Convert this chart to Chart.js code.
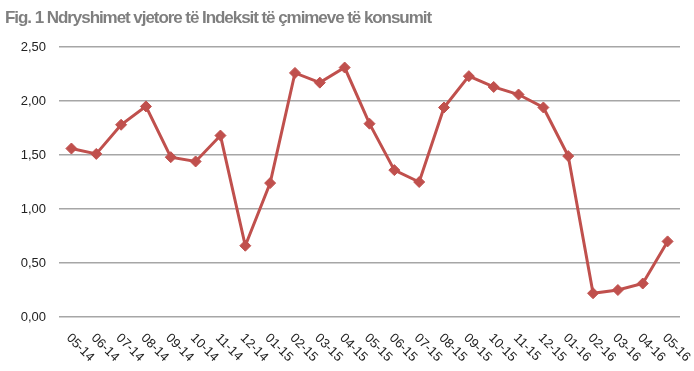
<!DOCTYPE html>
<html>
<head>
<meta charset="utf-8">
<script src="https://cdn.jsdelivr.net/npm/chart.js@4.4.0/dist/chart.umd.min.js"></script>
<style>
  html, body { margin: 0; padding: 0; background: #fff; }
  #wrap { position: relative; width: 694px; height: 371px; }
  #title { position: absolute; left: 5px; top: 8px; font-family: "Liberation Sans", Arial, sans-serif; font-weight: bold; font-size: 17px; color: #7f7f7f; white-space: nowrap; letter-spacing: -1px; }
  canvas { position: absolute; left: 0; top: 0; }
</style>
</head>
<body>
<div id="wrap">
  <canvas id="c" width="694" height="371"></canvas>
  <div id="title"><span id="tt">Fig. 1 Ndryshimet vjetore të Indeksit të çmimeve të konsumit</span></div>
</div>
<script>
const titleText = "Fig. 1 Ndryshimet vjetore të Indeksit të çmimeve të konsumit";
const categories = ["05-14","06-14","07-14","08-14","09-14","10-14","11-14","12-14","01-15","02-15","03-15","04-15","05-15","06-15","07-15","08-15","09-15","10-15","11-15","12-15","01-16","02-16","03-16","04-16","05-16"];
const inflation = [1.56,1.51,1.78,1.95,1.48,1.44,1.68,0.66,1.24,2.26,2.17,2.31,1.79,1.36,1.25,1.94,2.23,2.13,2.06,1.94,1.49,0.22,0.25,0.31,0.70];
const yTicks = [0, 0.5, 1, 1.5, 2, 2.5];

// fit title width to reference
(function(){
  const span = document.getElementById('tt');
  const target = 426;
  let ls = -1;
  const t = document.getElementById('title');
  for (let i = 0; i < 30; i++) {
    t.style.letterSpacing = ls + 'px';
    const w = span.getBoundingClientRect().width;
    const diff = target - w;
    if (Math.abs(diff) < 0.5) break;
    ls += diff / titleText.length;
  }
})();

const rotatedLabels = {
  id: 'rotatedLabels',
  afterDraw(chart) {
    const ctx = chart.ctx;
    const xs = chart.scales.x;
    ctx.save();
    ctx.font = '13px "Liberation Sans", Arial, sans-serif';
    ctx.fillStyle = '#222';
    ctx.textAlign = 'left';
    ctx.textBaseline = 'middle';
    categories.forEach((lab, i) => {
      const x = xs.getPixelForValue(i);
      ctx.save();
      ctx.translate(x - 3, xs.top + 19);
      ctx.rotate(Math.PI / 4);
      ctx.fillText(lab, 0, 0);
      ctx.restore();
    });
    ctx.restore();
  }
};

new Chart(document.getElementById('c'), {
  type: 'line',
  data: {
    labels: categories,
    datasets: [{
      data: inflation,
      borderColor: '#C0504D',
      backgroundColor: '#C0504D',
      borderWidth: 3,
      pointStyle: 'rectRot',
      pointRadius: 5.5,
      pointHoverRadius: 5.5,
      pointBorderWidth: 1,
      tension: 0
    }]
  },
  options: {
    responsive: false,
    animation: false,
    layout: { padding: { top: 47, right: 14, bottom: 0, left: 0 } },
    plugins: { legend: { display: false }, tooltip: { enabled: false }, title: { display: false } },
    scales: {
      x: {
        offset: true,
        grid: { display: false, drawTicks: false },
        border: { display: false },
        ticks: { display: false },
        afterFit(s) { s.height = 54; }
      },
      y: {
        min: 0, max: 2.5,
        afterBuildTicks(s) { s.ticks = yTicks.map(v => ({ value: v })); },
        grid: { color: '#a6a6a6', lineWidth: 1.5, drawTicks: false },
        border: { display: false },
        ticks: {
          padding: 13,
          color: '#222',
          font: { family: '"Liberation Sans", Arial, sans-serif', size: 13 },
          callback: v => v.toFixed(2).replace('.', ',')
        },
        afterFit(s) { s.width = 59; }
      }
    }
  },
  plugins: [rotatedLabels]
});
</script>
</body>
</html>
